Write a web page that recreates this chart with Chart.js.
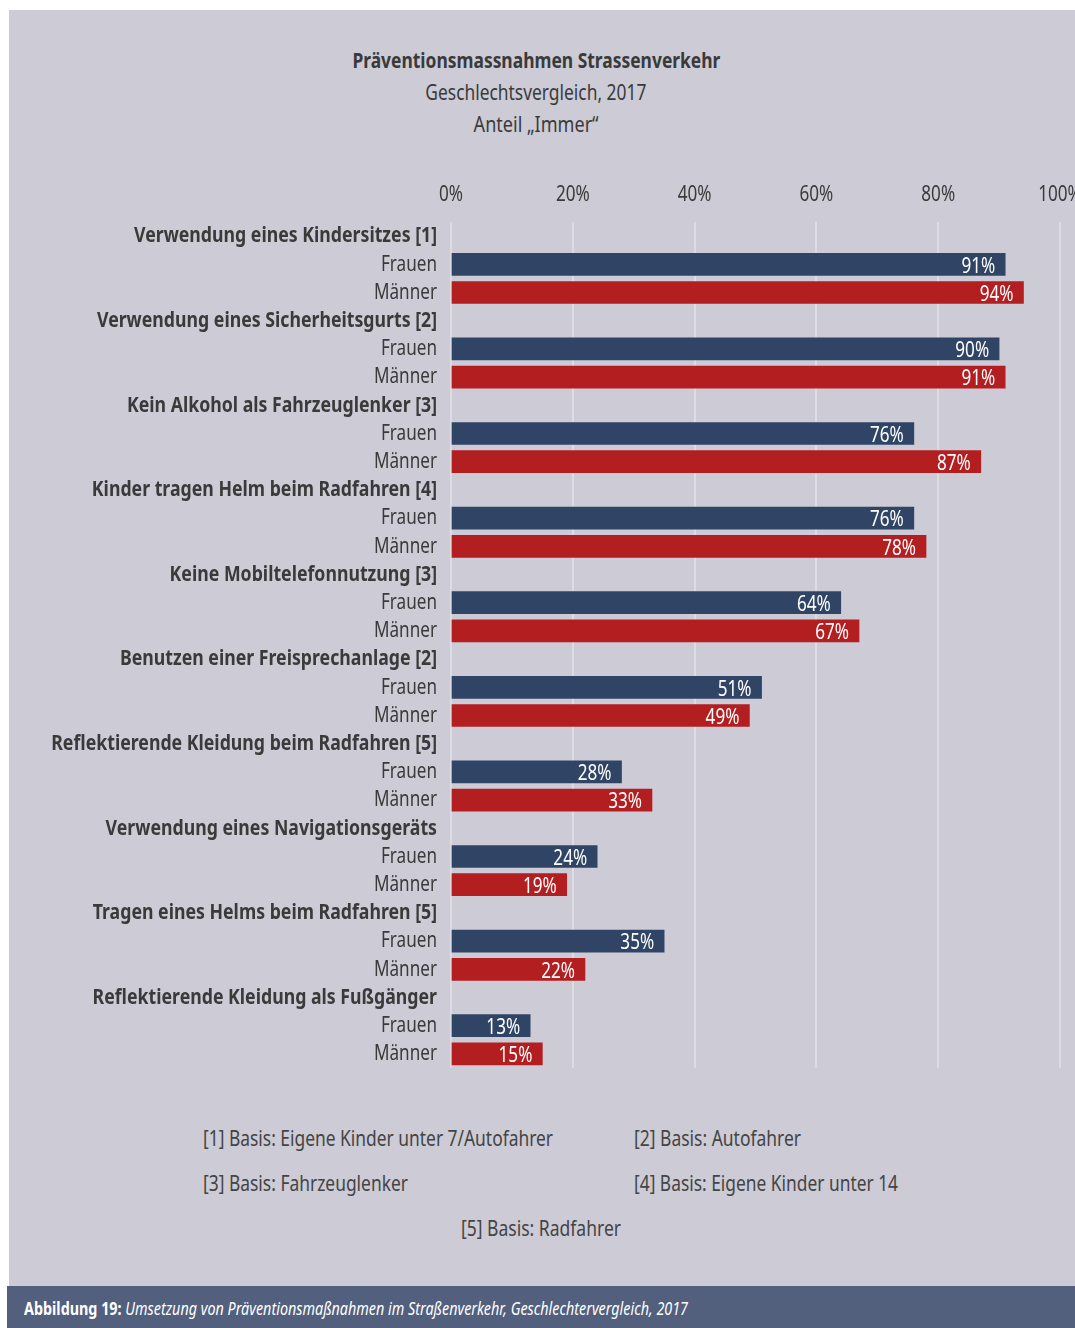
<!DOCTYPE html>
<html>
<head>
<meta charset="utf-8">
<script src="https://cdn.jsdelivr.net/npm/chart.js@4.4.1/dist/chart.umd.min.js"></script>
<style>
  body { margin: 0; background: #fff; width: 1075px; height: 1328px; position: relative; overflow: hidden;
         font-family: "Noto Sans", sans-serif; color: #3a3a3a; }
  #panel { position: absolute; left: 9px; top: 10px; width: 1066px; height: 1276px; background: #cccbd6; overflow: hidden; }
  .t { position: absolute; left: 0; width: 1054px; text-align: center; font-size: 22px; white-space: nowrap; }
  .t span { display: inline-block; transform-origin: center; }
  #wrap { position: absolute; left: 0; top: 150px; width: 1066px; height: 920px; }
  .fn { position: absolute; font-size: 22px; color: #444; white-space: nowrap; transform-origin: left center; }
  #footer { position: absolute; left: 7px; top: 1286px; width: 1068px; height: 42px; background: #52607e;
            color: #fff; font-size: 18px; line-height: 44px; white-space: nowrap; }
  #footer span.all { display: inline-block; margin-left: 17px; transform-origin: left center; }
</style>
</head>
<body>
<div id="panel">
  <div class="t" style="top:34px;font-weight:bold;"><span data-w="368">Präventionsmassnahmen Strassenverkehr</span></div>
  <div class="t" style="top:66px;"><span data-w="221">Geschlechtsvergleich, 2017</span></div>
  <div class="t" style="top:98px;"><span data-w="125">Anteil „Immer“</span></div>
  <div id="wrap"><canvas id="chart"></canvas></div>
  <div class="fn" data-w="350" style="left:194px;top:1112px;">[1] Basis: Eigene Kinder unter 7/Autofahrer</div>
  <div class="fn" data-w="167" style="left:625px;top:1112px;">[2] Basis: Autofahrer</div>
  <div class="fn" data-w="205" style="left:194px;top:1157px;">[3] Basis: Fahrzeuglenker</div>
  <div class="fn" data-w="264" style="left:625px;top:1157px;">[4] Basis: Eigene Kinder unter 14</div>
  <div class="fn" data-w="160" style="left:452px;top:1202px;">[5] Basis: Radfahrer</div>
</div>
<div id="footer"><span class="all" data-w="664"><b>Abbildung 19:</b> <i>Umsetzung von Präventionsmaßnahmen im Straßenverkehr, Geschlechtervergleich, 2017</i></span></div>

<script>
const categories = [
  'Verwendung eines Kindersitzes [1]',
  'Verwendung eines Sicherheitsgurts [2]',
  'Kein Alkohol als Fahrzeuglenker [3]',
  'Kinder tragen Helm beim Radfahren [4]',
  'Keine Mobiltelefonnutzung [3]',
  'Benutzen einer Freisprechanlage [2]',
  'Reflektierende Kleidung beim Radfahren [5]',
  'Verwendung eines Navigationsgeräts',
  'Tragen eines Helms beim Radfahren [5]',
  'Reflektierende Kleidung als Fußgänger'
];
const frauen = [91, 90, 76, 76, 64, 51, 28, 24, 35, 13];
const maenner = [94, 91, 87, 78, 67, 49, 33, 19, 22, 15];
const xTicks = [0, 20, 40, 60, 80, 100];

const FONT = '"Noto Sans", sans-serif';

// schmale Schrift nachbilden: Texte horizontal stauchen
document.querySelectorAll('[data-w]').forEach(function(el) {
  if (el.classList.contains('fn')) el.style.display = 'inline-block';
  const w = el.getBoundingClientRect().width;
  el.style.transform = 'scaleX(' + (Number(el.dataset.w) / w) + ')';
});

const mctx = document.createElement('canvas').getContext('2d');
function textWidth(font, s) { mctx.font = font; return mctx.measureText(s).width; }
const SQ_BOLD = 303 / textWidth('bold 22px ' + FONT, 'Verwendung eines Kindersitzes [1]');
const SQ_REG = 63 / textWidth('22px ' + FONT, 'Männer');

const condense = {
  id: 'condense',
  beforeInit(chart) {
    const ctx = chart.ctx;
    const fill = ctx.fillText;
    ctx.fillText = function(text, x, y) {
      const f = /bold/.test(this.font) ? SQ_BOLD : SQ_REG;
      return fill.call(this, text, x, y, this.measureText(text).width * f);
    };
  }
};

// je Kategorie drei Zeilen: Überschrift, Frauen, Männer
const labels = [];
const frauenRows = [];
const maennerRows = [];
categories.forEach(function(c, i) {
  labels.push(c, 'Frauen', 'Männer');
  frauenRows.push(null, frauen[i], null);
  maennerRows.push(null, null, maenner[i]);
});

// Prozentwerte weiß in die Balken schreiben
const valueLabels = {
  id: 'valueLabels',
  afterDatasetsDraw(chart) {
    const ctx = chart.ctx;
    ctx.save();
    ctx.fillStyle = '#ffffff';
    ctx.font = '22px ' + FONT;
    ctx.textAlign = 'right';
    ctx.textBaseline = 'middle';
    chart.data.datasets.forEach(function(ds, di) {
      chart.getDatasetMeta(di).data.forEach(function(bar, i) {
        const v = ds.data[i];
        if (v === null) return;
        ctx.fillText(v + '%', bar.x - 10, bar.y + 2);
      });
    });
    ctx.restore();
  }
};

new Chart(document.getElementById('chart'), {
  type: 'bar',
  data: {
    labels: labels,
    datasets: [
      { label: 'Frauen', data: frauenRows, backgroundColor: '#304566', barThickness: 22, grouped: false },
      { label: 'Männer', data: maennerRows, backgroundColor: '#b31e21', barThickness: 22, grouped: false }
    ]
  },
  options: {
    indexAxis: 'y',
    responsive: true,
    maintainAspectRatio: false,
    animation: false,
    layout: { padding: { top: 0, right: 15, bottom: 12, left: 0 } },
    plugins: {
      legend: { display: false },
      tooltip: { enabled: false }
    },
    scales: {
      x: {
        position: 'top',
        min: 0,
        max: 100,
        afterBuildTicks: function(scale) { scale.ticks = xTicks.map(function(v) { return { value: v }; }); },
        afterFit: function(scale) { scale.height = 62; scale.paddingLeft = 0; scale.paddingRight = 0; },
        grid: { color: '#dcdce3', lineWidth: 2, drawTicks: false },
        border: { display: false },
        ticks: {
          padding: 14,
          color: '#3a3a3a',
          font: { family: FONT, size: 22 },
          callback: function(v) { return v + '%'; }
        }
      },
      y: {
        afterFit: function(scale) { scale.width = 442; scale.paddingTop = 0; scale.paddingBottom = 0; },
        grid: { display: false, drawTicks: false },
        border: { display: false },
        ticks: {
          padding: 14,
          color: '#3a3a3a',
          autoSkip: false,
          font: function(c) {
            return c.index % 3 === 0
              ? { family: FONT, size: 22, weight: 'bold' }
              : { family: FONT, size: 22 };
          }
        }
      }
    }
  },
  plugins: [condense, valueLabels]
});
</script>
</body>
</html>
